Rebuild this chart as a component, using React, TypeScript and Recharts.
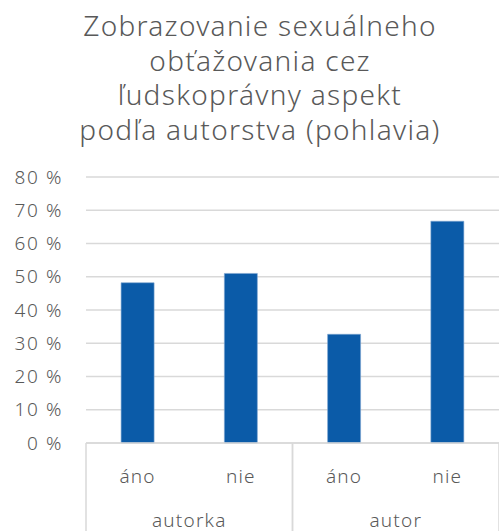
import React from 'react';
import { BarChart, Bar, XAxis, YAxis, CartesianGrid } from 'recharts';

const titleLines = [
  'Zobrazovanie sexuálneho',
  'obťažovania cez',
  'ľudskoprávny aspekt',
  'podľa autorstva (pohlavia)',
];
const answers = ['áno', 'nie', 'áno', 'nie'];
const groups = ['autorka', 'autorka', 'autor', 'autor'];
const shares = [48.2, 51.0, 32.7, 66.7];
const yTicks = [0, 10, 20, 30, 40, 50, 60, 70, 80];

const data = answers.map((a, i) => ({ answer: a, group: groups[i], value: shares[i] }));

const W = 499;
const H = 531;
const LEFT = 86;
const RIGHT = 0;
const BAND = (W - LEFT - RIGHT) / data.length;
const FONT = "'Noto Sans', sans-serif";
const GRAY = '#595959';
const LINE = '#d9d9d9';

function GroupTick(props: any) {
  const { x, y, index } = props;
  const first = index === 0 || groups[index] !== groups[index - 1];
  const last = index === groups.length - 1 || groups[index] !== groups[index + 1];
  const textStyle = { letterSpacing: '1.2px' };
  return (
    <g>
      <text x={x} y={y + 40} textAnchor="middle" fill={GRAY} fontSize={19} fontFamily={FONT} fontWeight={300} style={textStyle}>
        {answers[index]}
      </text>
      {first && (
        <line x1={x - BAND / 2} x2={x - BAND / 2} y1={y} y2={H} stroke={LINE} strokeWidth={1.5} />
      )}
      {last && (
        <>
          <line x1={x + BAND / 2} x2={x + BAND / 2} y1={y} y2={H} stroke={LINE} strokeWidth={1.5} />
          <text x={x - BAND / 2} y={y + 84} textAnchor="middle" fill={GRAY} fontSize={19} fontFamily={FONT} fontWeight={300} style={textStyle}>
            {groups[index]}
          </text>
        </>
      )}
    </g>
  );
}

export default function App() {
  return (
    <div style={{ position: 'relative', width: W, height: H, background: '#fff', overflow: 'hidden' }}>
      <style>{'body{margin:0}'}</style>
      <div
        style={{
          position: 'absolute',
          top: 8,
          left: 0,
          width: 520,
          textAlign: 'center',
          fontFamily: FONT,
          fontWeight: 300,
          fontSize: 28,
          letterSpacing: '1.3px',
          lineHeight: '34.5px',
          color: GRAY,
        }}
      >
        {titleLines.map((t) => (
          <div key={t}>{t}</div>
        ))}
      </div>
      <BarChart
        width={W}
        height={H}
        data={data}
        margin={{ top: 177, right: RIGHT, bottom: 0, left: 0 }}
        barCategoryGap="34%"
      >
        <CartesianGrid vertical={false} stroke={LINE} strokeWidth={1.5} />
        <XAxis
          dataKey="answer"
          height={88}
          tick={<GroupTick />}
          tickLine={false}
          tickSize={0}
          tickMargin={0}
          axisLine={{ stroke: LINE, strokeWidth: 1.5 }}
          interval={0}
        />
        <YAxis
          width={LEFT}
          domain={[0, 80]}
          ticks={yTicks}
          tickFormatter={(v: number) => `${v} %`}
          axisLine={false}
          tickLine={false}
          tickSize={0}
          tickMargin={23}
          tick={{ fill: GRAY, fontSize: 19, fontFamily: FONT, fontWeight: 300, style: { letterSpacing: '1.6px' } }}
        />
        <Bar dataKey="value" fill="#0b5ba8" stroke="#7fa6d0" strokeWidth={0.6} isAnimationActive={false} />
      </BarChart>
    </div>
  );
}
